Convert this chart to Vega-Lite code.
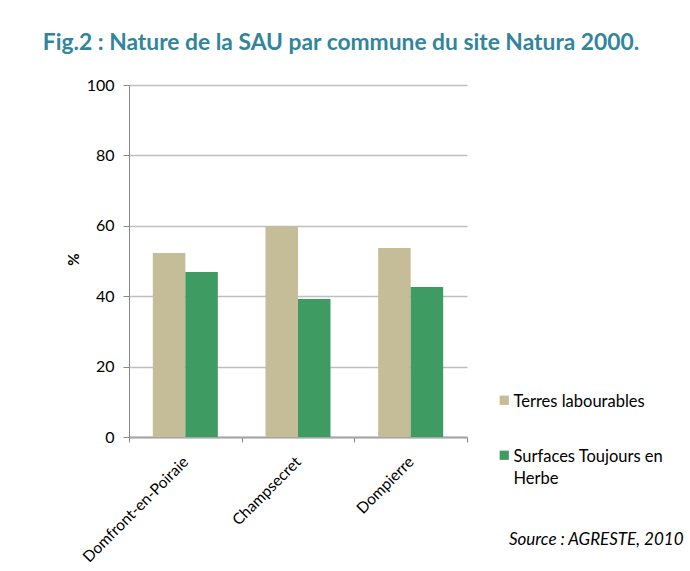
{
  "$schema": "https://vega.github.io/schema/vega-lite/v6.json",
  "autosize": {"type": "none"},
  "padding": {"left": 129, "top": 85, "right": 223, "bottom": 134},
  "width": 338,
  "height": 352,
  "background": "white",
  "title": {
    "text": "Fig.2 : Nature de la SAU par commune du site Natura 2000.",
    "anchor": "middle",
    "frame": "group",
    "dx": 43,
    "offset": 22,
    "font": "Lato",
    "fontSize": 22.8,
    "fontWeight": "bold",
    "color": "#31859C"
  },
  "data": {
    "values": [
      {"commune": "Domfront-en-Poiraie", "type": "Terres labourables", "value": 52.3},
      {"commune": "Domfront-en-Poiraie", "type": "Surfaces Toujours en Herbe", "value": 46.9},
      {"commune": "Champsecret", "type": "Terres labourables", "value": 59.8},
      {"commune": "Champsecret", "type": "Surfaces Toujours en Herbe", "value": 39.2},
      {"commune": "Dompierre", "type": "Terres labourables", "value": 53.7},
      {"commune": "Dompierre", "type": "Surfaces Toujours en Herbe", "value": 42.6}
    ]
  },
  "mark": {"type": "bar"},
  "encoding": {
    "x": {
      "field": "commune",
      "type": "nominal",
      "sort": ["Domfront-en-Poiraie", "Champsecret", "Dompierre"],
      "scale": {"paddingInner": 0, "paddingOuter": 0},
      "axis": {
        "tickBand": "extent",
        "labelAngle": -45,
        "labelAlign": "right",
        "labelBaseline": "middle",
        "labelPadding": 17,
        "labelFont": "Lato",
        "labelFontSize": 15.5,
        "labelColor": "#000000",
        "tickSize": 5,
        "tickColor": "#868686",
        "domainColor": "#A6A6A6",
        "domainWidth": 2,
        "title": "Source : AGRESTE, 2010",
        "titleFont": "Lato",
        "titleFontSize": 17,
        "titleFontStyle": "italic",
        "titleFontWeight": "normal",
        "titleColor": "#000000",
        "titleAlign": "right",
        "titleBaseline": "alphabetic",
        "titleX": 554,
        "titleY": 107
      }
    },
    "xOffset": {
      "field": "type",
      "type": "nominal",
      "sort": ["Terres labourables", "Surfaces Toujours en Herbe"],
      "scale": {"paddingInner": 0, "paddingOuter": 0.733}
    },
    "y": {
      "field": "value",
      "type": "quantitative",
      "scale": {"domain": [0, 100], "nice": false},
      "axis": {
        "values": [0, 20, 40, 60, 80, 100],
        "grid": true,
        "gridColor": "#BFBFBF",
        "gridWidth": 1.5,
        "domainColor": "#868686",
        "tickColor": "#868686",
        "tickSize": 6,
        "labelPadding": 9,
        "labelFont": "Lato",
        "labelFontSize": 16,
        "labelColor": "#000000",
        "title": "%",
        "titleFont": "Lato",
        "titleFontSize": 15,
        "titleFontWeight": "bold",
        "titleColor": "#000000",
        "titleAngle": -90,
        "titleAlign": "center",
        "titleBaseline": "middle",
        "titleX": -56,
        "titleY": 174
      }
    },
    "color": {
      "field": "type",
      "type": "nominal",
      "sort": ["Terres labourables", "Surfaces Toujours en Herbe"],
      "scale": {
        "domain": ["Terres labourables", "Surfaces Toujours en Herbe"],
        "range": ["#C4BD97", "#3E9C62"]
      },
      "legend": {
        "title": null,
        "orient": "none",
        "legendX": 367,
        "legendY": 307,
        "symbolType": "square",
        "symbolSize": 85,
        "symbolStrokeWidth": 0,
        "rowPadding": 36,
        "labelFont": "Lato",
        "labelFontSize": 16.5,
        "labelColor": "#000000",
        "labelLimit": 300,
        "labelBaseline": "top",
        "labelOffset": 1,
        "labelExpr": "datum.label == 'Surfaces Toujours en Herbe' ? ['Surfaces Toujours en', 'Herbe'] : datum.label",
        "encode": {"labels": {"update": {"dy": {"value": -6}}}}
      }
    }
  },
  "config": {
    "view": {"stroke": null},
    "axis": {"labelFontWeight": "normal"},
    "style": {"guide-label": {"lineHeight": 22}}
  }
}
